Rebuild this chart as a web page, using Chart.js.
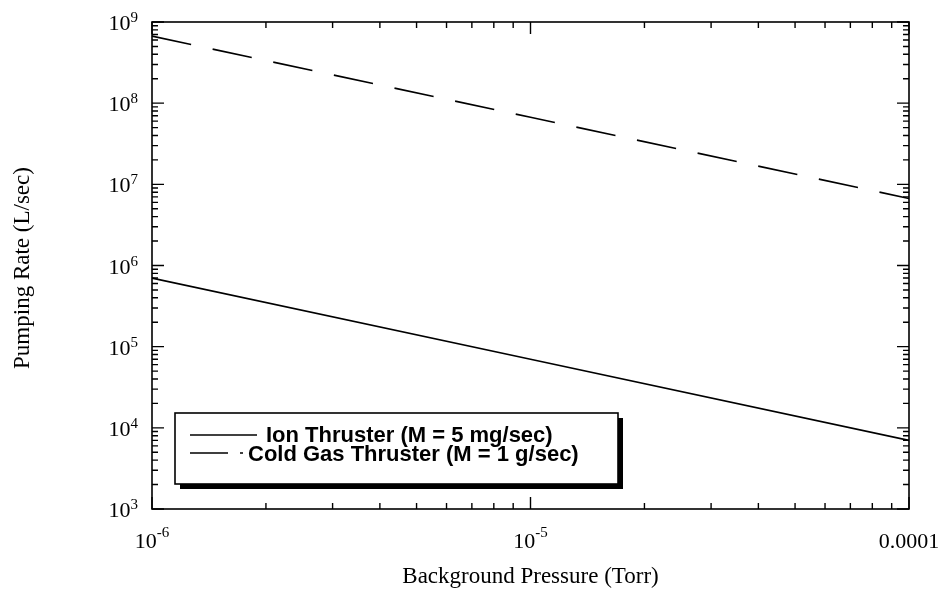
<!DOCTYPE html>
<html>
<head>
<meta charset="utf-8">
<script src="https://cdn.jsdelivr.net/npm/chart.js@4.4.1/dist/chart.umd.min.js"></script>
<style>
  html, body { margin: 0; padding: 0; background: #fff; }
</style>
</head>
<body>
<canvas id="myChart" width="940" height="605"></canvas>
<script>
// data

const pressure = [1e-6, 1e-5, 1e-4];          // Torr
const ionRate = [7.0e5, 7.0e4, 7.0e3];        // L/sec
const coldGasRate = [6.7e8, 6.7e7, 6.7e6];    // L/sec
const seriesNames = ['Ion Thruster (M = 5 mg/sec)', 'Cold Gas Thruster (M = 1 g/sec)'];

const xTickValues = [1e-6, 1e-5, 1e-4];
const xTickLabels = [['10', '-6'], ['10', '-5'], ['0.0001', '']];
const yTickValues = [1e3, 1e4, 1e5, 1e6, 1e7, 1e8, 1e9];
const yTickLabels = [['10', '3'], ['10', '4'], ['10', '5'], ['10', '6'], ['10', '7'], ['10', '8'], ['10', '9']];

const xTitle = 'Background Pressure (Torr)';
const yTitle = 'Pumping Rate (L/sec)';

// helpers

const serif = '"Liberation Serif", "Times New Roman", serif';
const sans = '"Liberation Sans", Arial, sans-serif';

function logTicks(min, max) { // every 1..9 x 10^n inside the range
    const out = [];
    for (let e = Math.floor(Math.log10(min)) - 1; e <= Math.ceil(Math.log10(max)); e++) {
        for (let m = 1; m <= 9; m++) {
            const v = m * Math.pow(10, e);
            if (v >= min * 0.9999 && v <= max * 1.0001) out.push({ v: v, major: m === 1 });
        }
    }
    return out;
}

function powerLabel(ctx, base, sup, x, baseY, supY, align) {
    ctx.font = '22px ' + serif;
    const bw = ctx.measureText(base).width;
    ctx.font = '15px ' + serif;
    const sw = sup ? ctx.measureText(sup).width : 0;
    let left = x - (bw + sw) / 2;
    if (align === 'right') left = x - bw - sw;
    ctx.textAlign = 'left';
    ctx.textBaseline = 'alphabetic';
    ctx.font = '22px ' + serif;
    ctx.fillText(base, left, baseY);
    if (sup) {
        ctx.font = '15px ' + serif;
        ctx.fillText(sup, left + bw, supY);
    }
}

// frame, inward ticks, labels, titles, legend

const framePlugin = {
    id: 'frame',
    afterDraw(chart) {
        const { ctx, chartArea: a, scales: { x, y } } = chart;
        ctx.save();
        ctx.strokeStyle = '#000';
        ctx.fillStyle = '#000';
        ctx.lineWidth = 1.6;
        ctx.strokeRect(a.left, a.top, a.right - a.left, a.bottom - a.top);

        ctx.beginPath();
        logTicks(x.min, x.max).forEach((t) => {
            const px = x.getPixelForValue(t.v);
            const len = t.major ? 12 : 6;
            ctx.moveTo(px, a.bottom); ctx.lineTo(px, a.bottom - len);
            ctx.moveTo(px, a.top); ctx.lineTo(px, a.top + len);
        });
        logTicks(y.min, y.max).forEach((t) => {
            const py = y.getPixelForValue(t.v);
            const len = t.major ? 12 : 6;
            ctx.moveTo(a.left, py); ctx.lineTo(a.left + len, py);
            ctx.moveTo(a.right, py); ctx.lineTo(a.right - len, py);
        });
        ctx.lineWidth = 1.4;
        ctx.stroke();

        // tick labels
        xTickValues.forEach((v, i) => {
            const px = x.getPixelForValue(v);
            powerLabel(ctx, xTickLabels[i][0], xTickLabels[i][1], px, a.bottom + 39, a.bottom + 28, 'center');
        });
        yTickValues.forEach((v, i) => {
            const py = y.getPixelForValue(v);
            powerLabel(ctx, yTickLabels[i][0], yTickLabels[i][1], a.left - 14, py + 8, py, 'right');
        });

        // axis titles
        ctx.font = '23px ' + serif;
        ctx.textAlign = 'center';
        ctx.textBaseline = 'alphabetic';
        ctx.fillText(xTitle, (a.left + a.right) / 2, 583);
        ctx.save();
        ctx.translate(29, 268);
        ctx.rotate(-Math.PI / 2);
        ctx.fillText(yTitle, 0, 0);
        ctx.restore();

        // legend box with shadow
        const lg = { x: 175, y: 413, w: 443, h: 71 };
        ctx.fillRect(lg.x + 5, lg.y + 5, lg.w, lg.h);
        ctx.fillStyle = '#fff';
        ctx.fillRect(lg.x, lg.y, lg.w, lg.h);
        ctx.lineWidth = 1.6;
        ctx.strokeRect(lg.x, lg.y, lg.w, lg.h);

        const ds = chart.data.datasets;
        ctx.lineWidth = 1.4;
        ctx.beginPath();
        ctx.setLineDash([]);
        ctx.moveTo(190, 435); ctx.lineTo(257, 435);
        ctx.stroke();
        ctx.beginPath();
        ctx.setLineDash([38, 12, 3, 200]);
        ctx.moveTo(190, 453); ctx.lineTo(257, 453);
        ctx.stroke();
        ctx.setLineDash([]);

        ctx.fillStyle = '#000';
        ctx.font = 'bold 22px ' + sans;
        ctx.textAlign = 'left';
        ctx.textBaseline = 'middle';
        ctx.fillText(ds[0].label, 266, 436);
        ctx.fillText(ds[1].label, 248, 455);
        ctx.restore();
    }
};

// chart

const myChart = document.getElementById('myChart').getContext('2d');

let pumpChart = new Chart(myChart, {
    type: 'scatter',
    data: {
        datasets: [{
            label: seriesNames[0],
            data: pressure.map((p, i) => ({ x: p, y: ionRate[i] })),
            showLine: true,
            borderColor: '#000',
            borderWidth: 1.6,
            pointRadius: 0,
            tension: 0
        }, {
            label: seriesNames[1],
            data: pressure.map((p, i) => ({ x: p, y: coldGasRate[i] })),
            showLine: true,
            borderColor: '#000',
            borderWidth: 1.6,
            borderDash: [40, 22],
            pointRadius: 0,
            tension: 0
        }]
    },
    options: {
        responsive: false,
        animation: false,
        layout: { padding: { left: 152, right: 31, top: 22, bottom: 96 } },
        plugins: {
            legend: { display: false },
            tooltip: { enabled: false }
        },
        scales: {
            x: { type: 'logarithmic', min: 1e-6, max: 1e-4, display: false },
            y: { type: 'logarithmic', min: 1e3, max: 1e9, display: false }
        }
    },
    plugins: [framePlugin]
});
</script>
</body>
</html>
